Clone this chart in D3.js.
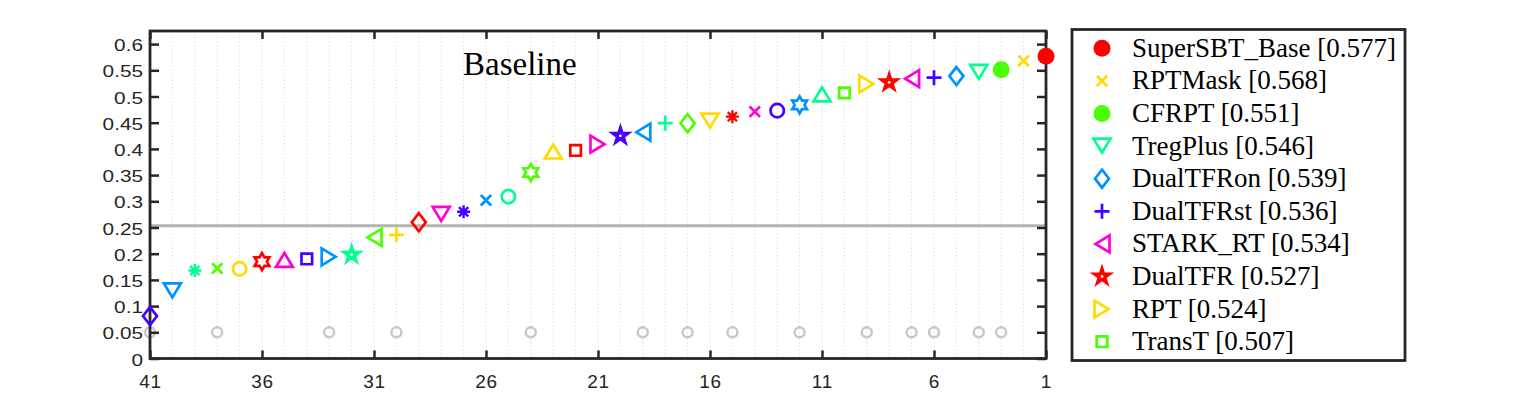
<!DOCTYPE html>
<html>
<head>
<meta charset="utf-8">
<script src="https://cdn.jsdelivr.net/npm/d3@7"></script>
<style>
  body { margin: 0; background: #fff; }
  svg { display: block; }
</style>
</head>
<body>
<div id="chart"></div>
<script>
// rank 1 (best) ... rank 41
var scores = [0.577, 0.568, 0.551, 0.546, 0.539, 0.536, 0.534, 0.527, 0.524, 0.507,
              0.505, 0.484, 0.473, 0.471, 0.4615, 0.453, 0.449, 0.449, 0.432, 0.425,
              0.409, 0.397, 0.396, 0.355, 0.309, 0.302, 0.280, 0.275, 0.260, 0.236,
              0.231, 0.198, 0.194, 0.190, 0.189, 0.185, 0.171, 0.172, 0.168, 0.129,
              0.081];
var ranks = scores.map(function (d, i) { return i + 1; });

// top ten shown in the legend
var legendNames = ["SuperSBT_Base", "RPTMask", "CFRPT", "TregPlus", "DualTFRon",
                   "DualTFRst", "STARK_RT", "DualTFR", "RPT", "TransT"];

// ranks flagged with a grey circle at 0.05
var flaggedRanks = [41, 38, 33, 30, 24, 19, 17, 15, 12, 9, 7, 6, 4, 3];
var flagValue = 0.05;

// horizontal reference line
var baselineValue = 0.2535;

var xTicks = [41, 36, 31, 26, 21, 16, 11, 6, 1];
var yTicks = [0, 0.05, 0.1, 0.15, 0.2, 0.25, 0.3, 0.35, 0.4, 0.45, 0.5, 0.55, 0.6];

// hsv(7) colour cycle and marker cycle
var colors = ["#ff0000", "#ffdb00", "#49ff00", "#00ff92", "#0092ff", "#4900ff", "#ff00db"];
var markerCycle = ["o", "x", "*", "v", "d", "+", "<", "p", ">", "s", "^", "h"];
var filledRanks = [1, 3];

var width = 1515, height = 405;
var box = { left: 150, right: 1046, top: 31, bottom: 358.5 };

var svg = d3.select("#chart")
    .append("svg")
    .attr("width", width)
    .attr("height", height);

svg.append("rect").attr("width", width).attr("height", height).attr("fill", "#fff");

var x = d3.scaleLinear().domain([41, 1]).range([box.left, box.right]);
var y = d3.scaleLinear().domain([0, 0.625]).range([box.bottom, box.top]);

function star(points, R, r) {
    var pts = [];
    for (var i = 0; i < points * 2; i++) {
        var a = -Math.PI / 2 + i * Math.PI / points;
        var rad = i % 2 === 0 ? R : r;
        pts.push([rad * Math.cos(a), rad * Math.sin(a)]);
    }
    return "M" + pts.map(function (p) { return p[0].toFixed(2) + "," + p[1].toFixed(2); }).join("L") + "Z";
}

function circle(r) {
    return "M" + r + ",0A" + r + "," + r + " 0 1,1 " + (-r) + ",0A" + r + "," + r + " 0 1,1 " + r + ",0Z";
}

var shapePaths = {
    "o": circle(6.7),
    "x": "M-5.2,-5.2L5.2,5.2M-5.2,5.2L5.2,-5.2",
    "*": "M0,-6.5L0,6.5M-6.5,0L6.5,0M-4.6,-4.6L4.6,4.6M-4.6,4.6L4.6,-4.6",
    "+": "M-7.5,0L7.5,0M0,-7.5L0,7.5",
    "v": "M-8.5,-7.5L8.5,-7.5L0,6.5Z",
    "^": "M-8.5,7.5L8.5,7.5L0,-6.5Z",
    ">": "M-7.5,-8.5L-7.5,8.5L6.5,0Z",
    "<": "M7.5,-8.5L7.5,8.5L-6.5,0Z",
    "d": "M0,-9L7,0L0,9L-7,0Z",
    "s": "M-5.3,-5.3H5.3V5.3H-5.3Z",
    "p": star(5, 10.5, 4.0),
    "h": star(6, 8.5, 4.9),
    "filled": circle(8.5)
};

function drawMarker(g, rank, cx, cy) {
    var color = colors[(rank - 1) % colors.length];
    var type = filledRanks.indexOf(rank) >= 0 ? "filled" : markerCycle[(rank - 1) % markerCycle.length];
    var p = g.append("path")
        .attr("transform", "translate(" + cx + "," + cy + ")")
        .attr("d", shapePaths[type])
        .attr("stroke-linejoin", "miter");
    if (type === "filled") {
        p.attr("fill", color);
    } else if (type === "p") {
        p.attr("fill", color).attr("stroke", color).attr("stroke-width", 1.5);
        g.append("circle").attr("cx", cx).attr("cy", cy).attr("r", 1.4).attr("fill", "#fff");
    } else {
        p.attr("fill", type === "h" ? "#fff" : "none")
            .attr("stroke", color)
            .attr("stroke-width", type === "*" ? 2.4 : 2.7);
    }
}

// dotted vertical grid at each rank
svg.append("g")
    .selectAll("line")
    .data(ranks)
    .enter()
    .append("line")
    .attr("x1", function (d) { return x(d); })
    .attr("x2", function (d) { return x(d); })
    .attr("y1", box.top)
    .attr("y2", box.bottom)
    .attr("stroke", "#d4d4d4")
    .attr("stroke-width", 1)
    .attr("stroke-dasharray", "1,2.5");

// grey reference line
svg.append("line")
    .attr("x1", box.left).attr("x2", box.right)
    .attr("y1", y(baselineValue)).attr("y2", y(baselineValue))
    .attr("stroke", "#b3b3b3")
    .attr("stroke-width", 3);

// grey flag circles
svg.append("g")
    .selectAll("path")
    .data(flaggedRanks)
    .enter()
    .append("path")
    .attr("transform", function (d) { return "translate(" + x(d) + "," + y(flagValue) + ")"; })
    .attr("d", circle(5))
    .attr("fill", "none")
    .attr("stroke", "#c8c8c8")
    .attr("stroke-width", 2.5);

// axes (ticks pointing inwards on all four sides)
var axisColor = "#262626";
function styleAxis(g) {
    g.select(".domain").remove();
    g.selectAll(".tick line").attr("stroke", axisColor).attr("stroke-width", 2.5);
    g.selectAll(".tick text").attr("fill", axisColor).style("font-family", "'Liberation Sans', Arial, sans-serif");
}

svg.append("g")
    .attr("transform", "translate(0," + box.bottom + ")")
    .call(d3.axisBottom(x).tickValues(xTicks).tickSizeInner(-8).tickSizeOuter(0).tickPadding(16)
        .tickFormat(d3.format("d")))
    .call(styleAxis)
    .selectAll(".tick text")
    .style("font-size", "19px")
    .style("letter-spacing", "0.8px");

svg.append("g")
    .attr("transform", "translate(0," + box.top + ")")
    .call(d3.axisTop(x).tickValues(xTicks).tickSizeInner(-8).tickSizeOuter(0).tickFormat(""))
    .call(styleAxis);

// y labels in the reference are drawn a bit wide, so stretch them horizontally
var yStretch = 1.26;
svg.append("g")
    .attr("transform", "translate(" + box.left + ",0)")
    .call(d3.axisLeft(y).tickValues(yTicks).tickSizeInner(-9).tickSizeOuter(0).tickPadding(7)
        .tickFormat(function (d) { return String(+d.toFixed(2)); }))
    .call(styleAxis)
    .selectAll(".tick text")
    .style("font-size", "16.5px")
    .attr("x", -7 / yStretch)
    .attr("transform", "scale(" + yStretch + ",1)")
    .attr("dy", "0.4em");

svg.append("g")
    .attr("transform", "translate(" + box.right + ",0)")
    .call(d3.axisRight(y).tickValues(yTicks).tickSizeInner(-9).tickSizeOuter(0).tickFormat(""))
    .call(styleAxis);

svg.append("rect")
    .attr("x", box.left).attr("y", box.top)
    .attr("width", box.right - box.left).attr("height", box.bottom - box.top)
    .attr("fill", "none")
    .attr("stroke", axisColor)
    .attr("stroke-width", 2.8);

// title inside the plot
svg.append("text")
    .attr("x", 463)
    .attr("y", 75)
    .style("font-family", "'Liberation Serif', 'Times New Roman', serif")
    .style("font-size", "33px")
    .attr("fill", "#000")
    .text("Baseline");

// markers
var marks = svg.append("g");
ranks.forEach(function (r, i) {
    drawMarker(marks, r, x(r), y(scores[i]));
});

// legend
var legend = svg.append("g");
legend.append("rect")
    .attr("x", 1072).attr("y", 29.5)
    .attr("width", 333).attr("height", 331)
    .attr("fill", "#fff")
    .attr("stroke", axisColor)
    .attr("stroke-width", 2.8);

var rowY = d3.scaleLinear().domain([0, 9]).range([48.3, 341.7]);
legendNames.forEach(function (name, i) {
    drawMarker(legend, i + 1, 1102, rowY(i));
    legend.append("text")
        .attr("x", 1132)
        .attr("y", rowY(i) + 8.5)
        .style("font-family", "'Liberation Serif', 'Times New Roman', serif")
        .style("font-size", "27px")
        .attr("fill", "#000")
        .text(name + " [" + scores[i].toFixed(3) + "]");
});
</script>
</body>
</html>
